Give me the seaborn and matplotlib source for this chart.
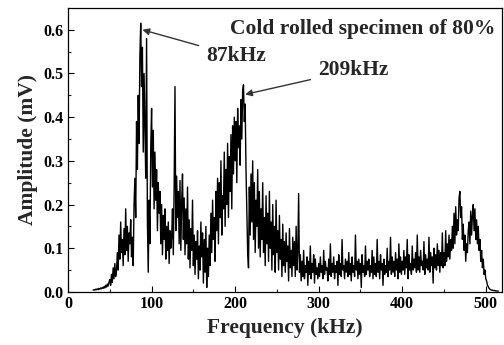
import numpy as np
import pandas as pd
import matplotlib
matplotlib.use("Agg")
import matplotlib.pyplot as plt
import seaborn as sns

# Frequency start (kHz) and 1 kHz spacing, amplitudes (mV)
freq_start = 30
amplitude = [
    # 30-39
    0.004,0.005,0.004,0.006,0.005,0.007,0.005,0.008,0.006,0.009,
    # 40-49
    0.007,0.010,0.008,0.012,0.009,0.015,0.011,0.018,0.013,0.022,
    # 50-59
    0.028,0.015,0.040,0.022,0.055,0.030,0.065,0.035,0.048,0.090,
    # 60-69
    0.050,0.130,0.075,0.160,0.090,0.120,0.060,0.145,0.085,0.190,
    # 70-79
    0.095,0.150,0.070,0.135,0.110,0.165,0.080,0.125,0.060,0.200,
    # 80-89
    0.260,0.170,0.390,0.280,0.450,0.340,0.540,0.615,0.470,0.560,
    # 90-99
    0.320,0.500,0.380,0.260,0.580,0.160,0.045,0.210,0.110,0.330,
    # 100-109
    0.420,0.240,0.370,0.190,0.320,0.210,0.280,0.140,0.250,0.180,
    # 110-119
    0.230,0.110,0.200,0.085,0.175,0.120,0.190,0.075,0.150,0.095,
    # 120-129
    0.160,0.065,0.140,0.100,0.125,0.190,0.085,0.240,0.470,0.140,
    # 130-139
    0.265,0.170,0.230,0.110,0.255,0.095,0.205,0.270,0.120,0.215,
    # 140-149
    0.085,0.190,0.110,0.240,0.075,0.165,0.055,0.145,0.095,0.210,
    # 150-159
    0.060,0.130,0.040,0.115,0.075,0.140,0.030,0.105,0.050,0.160,
    # 160-169
    0.080,0.135,0.020,0.120,0.045,0.150,0.010,0.100,0.035,0.130,
    # 170-179
    0.060,0.180,0.090,0.210,0.120,0.170,0.070,0.230,0.140,0.260,
    # 180-189
    0.110,0.250,0.170,0.300,0.130,0.220,0.190,0.320,0.150,0.280,
    # 190-199
    0.200,0.340,0.170,0.310,0.230,0.360,0.190,0.380,0.270,0.400,
    # 200-209
    0.300,0.390,0.250,0.420,0.330,0.380,0.290,0.440,0.350,0.460,
    # 210-219
    0.474,0.390,0.430,0.280,0.190,0.090,0.055,0.240,0.130,0.270,
    # 220-229
    0.160,0.300,0.120,0.250,0.090,0.210,0.150,0.280,0.100,0.230,
    # 230-239
    0.080,0.190,0.120,0.250,0.090,0.170,0.060,0.220,0.110,0.180,
    # 240-249
    0.070,0.230,0.100,0.160,0.050,0.200,0.085,0.150,0.045,0.210,
    # 250-259
    0.090,0.140,0.050,0.175,0.075,0.120,0.035,0.155,0.060,0.115,
    # 260-269
    0.045,0.135,0.070,0.105,0.025,0.145,0.055,0.095,0.035,0.125,
    # 270-279
    0.060,0.115,0.035,0.150,0.050,0.090,0.225,0.045,0.085,0.025,
    # 280-289
    0.070,0.035,0.095,0.030,0.060,0.045,0.080,0.015,0.070,0.040,
    # 290-299
    0.105,0.030,0.065,0.045,0.085,0.020,0.075,0.040,0.055,0.030,
    # 300-309
    0.065,0.035,0.080,0.045,0.060,0.030,0.095,0.040,0.070,0.050,
    # 310-319
    0.055,0.025,0.075,0.040,0.110,0.035,0.065,0.045,0.080,0.030,
    # 320-329
    0.060,0.045,0.070,0.015,0.085,0.040,0.065,0.035,0.120,0.050,
    # 330-339
    0.060,0.030,0.075,0.045,0.070,0.035,0.090,0.040,0.065,0.025,
    # 340-349
    0.080,0.045,0.060,0.035,0.130,0.050,0.070,0.030,0.075,0.040,
    # 350-359
    0.065,0.010,0.085,0.045,0.060,0.035,0.105,0.040,0.070,0.050,
    # 360-369
    0.075,0.035,0.060,0.045,0.095,0.030,0.080,0.040,0.065,0.035,
    # 370-379
    0.120,0.045,0.070,0.030,0.085,0.050,0.065,0.015,0.075,0.040,
    # 380-389
    0.060,0.045,0.100,0.035,0.070,0.050,0.125,0.040,0.080,0.045,
    # 390-399
    0.070,0.035,0.090,0.050,0.075,0.030,0.110,0.045,0.080,0.040,
    # 400-409
    0.070,0.050,0.095,0.040,0.080,0.055,0.120,0.030,0.085,0.050,
    # 410-419
    0.065,0.040,0.105,0.050,0.075,0.055,0.090,0.045,0.130,0.050,
    # 420-429
    0.080,0.045,0.095,0.060,0.070,0.050,0.115,0.040,0.085,0.055,
    # 430-439
    0.075,0.050,0.125,0.045,0.090,0.060,0.080,0.020,0.100,0.055,
    # 440-449
    0.085,0.050,0.110,0.060,0.095,0.045,0.090,0.060,0.135,0.055,
    # 450-459
    0.090,0.060,0.140,0.070,0.110,0.080,0.130,0.075,0.120,0.095,
    # 460-469
    0.150,0.100,0.180,0.110,0.195,0.130,0.165,0.140,0.215,0.230,
    # 470-479
    0.170,0.195,0.120,0.155,0.095,0.130,0.070,0.110,0.090,0.140,
    # 480-489
    0.160,0.110,0.185,0.130,0.175,0.200,0.140,0.190,0.120,0.165,
    # 490-499
    0.110,0.150,0.095,0.120,0.070,0.095,0.055,0.075,0.040,0.050,
    # 500-509
    0.030,0.025,0.015,0.012,0.008,0.006,0.005,0.004,0.004,0.003,
    # 510-515
    0.003,0.003,0.002,0.002,0.002,0.002,
]
freq = list(range(freq_start, freq_start + len(amplitude)))

x_ticks = [0, 100, 200, 300, 400, 500]
y_ticks = [0.0, 0.1, 0.2, 0.3, 0.4, 0.5, 0.6]
title_text = "Cold rolled specimen of 80%"
peak_labels = ["87kHz", "209kHz"]
peak_freqs = [87, 210]
peak_amps = [0.600, 0.452]

sns.set_theme(style="ticks")
plt.rcParams["font.family"] = ["Liberation Serif", "DejaVu Serif"]
plt.rcParams["font.weight"] = "bold"

df = pd.DataFrame({"Frequency": freq, "Amplitude": amplitude})

fig = plt.figure(figsize=(5.04, 3.45), dpi=100)
ax = fig.add_axes([0.135, 0.154, 0.862, 0.823])
sns.lineplot(data=df, x="Frequency", y="Amplitude", ax=ax, color="black",
             linewidth=1.0, estimator=None, sort=False)

ax.set_xlim(0, 520)
ax.set_ylim(0, 0.65)
ax.set_xticks(x_ticks)
ax.set_xticklabels([str(t) for t in x_ticks])
ax.set_yticks(y_ticks)
ax.set_yticklabels([f"{t:.1f}" for t in y_ticks])
ax.set_xticks([50, 150, 250, 350, 450], minor=True)
ax.set_yticks([0.05, 0.15, 0.25, 0.35, 0.45, 0.55], minor=True)
ax.tick_params(axis="both", which="major", direction="in", length=4, width=0.8,
               labelsize=11.5, colors="black", pad=3)
ax.tick_params(axis="both", which="minor", direction="in", length=2.5, width=0.8)
for lab in ax.get_xticklabels() + ax.get_yticklabels():
    lab.set_fontweight("bold")
for s in ax.spines.values():
    s.set_visible(True)
    s.set_linewidth(0.9)
    s.set_color("black")

ax.set_xlabel("Frequency (kHz)", fontsize=15.5, fontweight="bold", labelpad=4)
ax.set_ylabel("Amplitude (mV)", fontsize=15.5, fontweight="bold", labelpad=4)

ax.text(511, 0.602, title_text, ha="right", va="center", fontsize=15.5,
        fontweight="bold")
ax.annotate(peak_labels[0], xy=(peak_freqs[0] + 2, peak_amps[0]),
            xytext=(165, 0.540), ha="left", va="center", fontsize=15.5,
            fontweight="bold",
            arrowprops=dict(arrowstyle="-|>", color="#333333", lw=1,
                            shrinkA=3, shrinkB=0, mutation_scale=10))
ax.annotate(peak_labels[1], xy=(peak_freqs[1] + 2, peak_amps[1]),
            xytext=(299, 0.508), ha="left", va="center", fontsize=15.5,
            fontweight="bold",
            arrowprops=dict(arrowstyle="-|>", color="#333333", lw=1,
                            shrinkA=3, shrinkB=0, mutation_scale=10))

fig.savefig("out.png", dpi=100)
